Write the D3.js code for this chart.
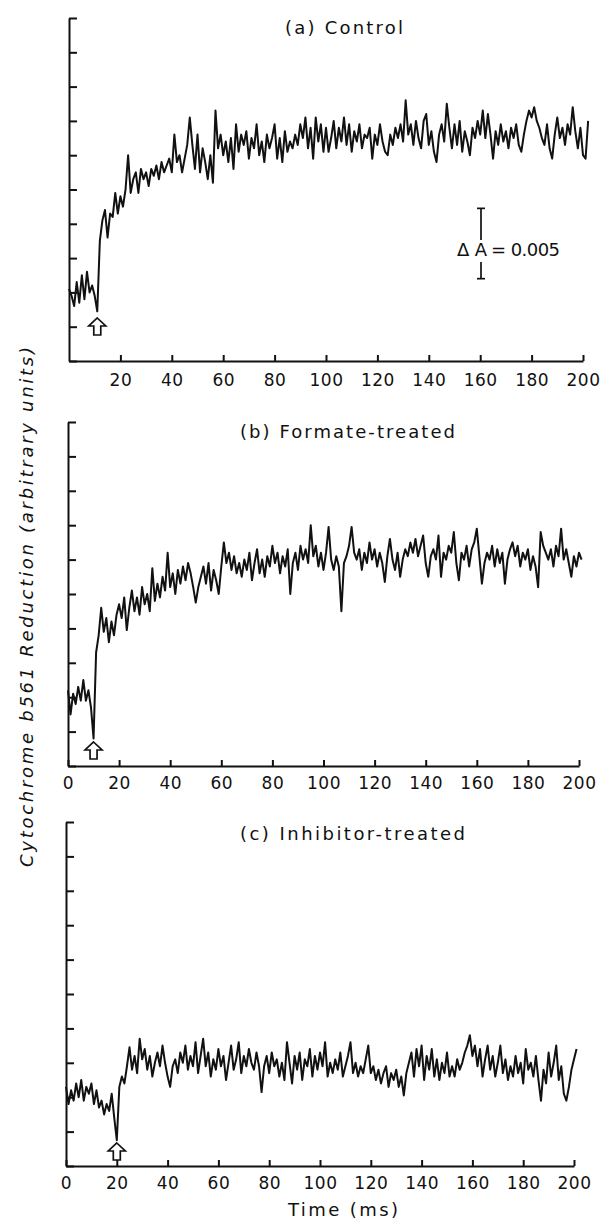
<!DOCTYPE html>
<html>
<head>
<meta charset="utf-8">
<script src="https://cdn.jsdelivr.net/npm/d3@7"></script>
<style>
body { margin: 0; background: #fff; }
svg { display: block; }
.trace { fill: none; stroke: #111; stroke-width: 2; stroke-linejoin: round; }
.axis path, .axis line { stroke: #111; stroke-width: 2; }
.axis text { font-family: "DejaVu Sans"; font-size: 17px; fill: #111; letter-spacing: 0.5px; }
.label { font-family: "DejaVu Sans"; font-size: 18px; fill: #111; }
.flash { fill: #fff; stroke: #111; stroke-width: 1.7; stroke-linejoin: miter; }
</style>
</head>
<body>
<svg id="fig" width="607" height="1222"></svg>
<script>
const timeStep = 1;   // ms between samples, traces start at t = 0

// (a) control
const controlTrace = [
    2.1, 1.9, 1.6, 2.3, 1.7, 2.5, 1.8, 2.6, 2.0, 2.2,
    1.9, 1.45, 3.5, 4.1, 4.4, 3.6, 4.3, 4.2, 4.9, 4.3,
    4.8, 4.5, 5.0, 6.0, 4.9, 5.3, 5.5, 4.9, 5.6, 5.3,
    5.5, 5.1, 5.6, 5.4, 5.7, 5.3, 5.8, 5.5, 5.7, 5.9,
    5.5, 6.6, 5.8, 6.0, 5.5, 5.9, 6.3, 7.1, 6.3, 5.6,
    6.6, 5.5, 6.2, 5.8, 5.3, 6.0, 5.2, 7.3, 6.2, 6.6,
    6.0, 6.4, 5.8, 6.5, 5.6, 6.9, 6.1, 6.6, 6.3, 6.7,
    5.9, 6.5, 6.2, 6.9, 6.0, 6.4, 5.8, 6.6, 6.2, 6.5,
    6.9, 5.9, 6.5, 5.8, 6.7, 6.1, 6.4, 6.2, 6.6, 6.3,
    6.9, 6.5, 7.1, 6.2, 6.8, 5.9, 7.1, 6.4, 6.9, 6.1,
    6.8, 6.1, 6.5, 7.0, 6.2, 6.8, 6.4, 7.1, 6.3, 6.9,
    6.1, 6.7, 6.4, 6.9, 6.2, 6.6, 6.5, 6.8, 5.9, 6.6,
    6.3, 6.9, 6.4, 6.1, 6.0, 6.6, 6.3, 6.8, 6.5, 6.9,
    6.4, 7.6, 6.6, 6.9, 6.3, 7.0, 6.5, 6.2, 7.0, 7.2,
    6.3, 6.7, 6.1, 5.8, 6.6, 6.9, 6.4, 7.5, 6.8, 6.2,
    6.9, 6.3, 7.0, 6.1, 6.7, 6.4, 6.0, 6.8, 6.5, 7.0,
    6.6, 7.3, 6.5, 7.2, 6.6, 5.9, 6.7, 6.3, 6.9, 6.4,
    6.7, 6.2, 6.8, 6.5, 6.9, 6.3, 6.1, 6.6, 7.0, 7.3,
    7.1, 7.4, 7.0, 6.8, 6.5, 6.3, 6.9, 6.2, 5.9, 6.6,
    7.1, 6.5, 6.8, 6.3, 6.9, 6.6, 7.4, 6.7, 6.2, 6.8,
    6.0, 5.9, 7.0
];

// (b) formate-treated
const formateTrace = [
    2.2, 1.5, 2.1, 1.8, 2.3, 1.9, 2.5, 1.9, 2.2, 1.7,
    0.8, 3.3, 3.8, 4.6, 3.9, 4.3, 3.6, 4.2, 3.8, 4.4,
    4.7, 4.3, 4.9, 3.95, 4.6, 5.1, 4.5, 4.9, 4.4, 5.2,
    4.7, 5.0, 4.5, 5.75, 4.8, 5.3, 4.9, 5.5, 5.1, 6.2,
    5.2, 5.6, 5.0, 5.7, 5.3, 5.8, 5.4, 5.9, 5.6, 5.2,
    4.75, 5.2, 5.5, 5.8, 5.3, 5.9, 5.1, 5.7, 5.4, 5.0,
    5.8, 6.5, 5.9, 6.2, 5.7, 6.1, 5.6, 5.9, 5.5, 6.0,
    5.7, 6.2, 5.4, 5.9, 6.3, 5.6, 6.0, 5.5, 6.1, 5.8,
    6.4, 5.9, 6.2, 5.6, 6.1, 5.8, 6.3, 5.0, 5.9, 6.2,
    5.7, 6.4, 6.0, 6.3, 5.9, 7.0, 6.1, 6.4, 5.8, 6.2,
    5.7, 6.2, 6.95, 6.0, 5.7, 6.1, 5.8, 4.5, 5.9, 6.1,
    6.4, 6.95, 6.2, 6.0, 6.3, 5.7, 6.2, 5.9, 6.5, 6.0,
    6.3, 5.8, 6.2, 5.9, 5.35, 6.1, 6.6, 6.0, 5.7, 6.2,
    5.5, 6.0, 6.3, 6.1, 6.5, 6.2, 6.6, 6.1, 6.4, 6.7,
    5.9, 5.5, 6.1, 6.3, 6.0, 6.7, 5.5, 6.2, 6.0, 6.4,
    6.2, 6.8, 5.9, 5.4, 6.2, 6.0, 6.4, 5.8, 6.3, 6.5,
    6.9, 6.1, 5.3, 5.9, 6.2, 6.0, 6.4, 5.8, 6.3, 5.9,
    6.2, 5.3, 6.0, 6.3, 6.5, 6.1, 6.4, 5.8, 6.2, 6.0,
    6.3, 5.7, 6.1, 5.8, 5.2, 6.8, 6.4, 6.2, 6.0, 6.3,
    5.8, 6.4, 6.1, 6.9, 6.0, 6.3, 5.9, 5.5, 6.1, 5.8,
    6.2, 6.0
];

// (c) inhibitor-treated
const inhibitorTrace = [
    2.3, 1.8, 2.2, 1.9, 2.4, 2.0, 2.5, 1.9, 2.3, 2.1,
    2.4, 1.8, 2.2, 1.7, 1.9, 1.5, 1.8, 1.6, 2.1, 1.4,
    0.75, 2.3, 2.6, 2.4, 2.9, 3.45, 2.8, 3.2, 2.7, 3.7,
    3.1, 3.4, 2.8, 3.2, 2.6, 3.0, 3.3, 2.9, 3.5, 3.0,
    2.6, 2.3, 2.9, 3.1, 2.7, 3.3, 3.0, 3.5, 2.8, 3.2,
    2.9, 3.6, 2.7, 3.2, 3.7, 2.9, 3.3, 2.6, 3.1, 2.8,
    3.4, 2.9, 3.2, 2.5, 3.0, 3.5, 2.8, 3.1, 3.6, 2.7,
    3.2, 2.9, 3.4, 3.0, 2.8, 3.3, 2.9, 2.15, 2.9, 3.2,
    2.7, 3.3, 2.9, 3.1, 2.6, 3.0, 2.5, 3.6, 3.0, 2.4,
    3.2, 2.8, 3.3, 2.5, 3.1, 2.9, 3.4, 2.6, 3.2, 2.8,
    3.3, 2.9, 3.6, 2.6, 3.0, 2.7, 3.1, 2.8, 3.3, 2.6,
    2.9, 3.2, 3.6, 2.7, 3.0, 2.6, 2.9, 2.7, 3.1, 3.5,
    2.7, 2.9, 2.5, 2.8, 2.4, 2.7, 2.9, 2.3, 2.7, 2.5,
    2.8, 2.3, 2.6, 2.05, 2.7, 3.0, 3.3, 2.6, 3.4, 2.9,
    3.5, 2.5, 3.2, 2.8, 3.4, 2.6, 3.1, 2.5, 3.0, 2.7,
    3.3, 2.6, 2.9, 2.6, 3.1, 2.8, 3.0, 3.3, 3.5, 3.8,
    3.2, 3.5, 2.9, 3.4, 2.6, 3.1, 3.5, 2.8, 3.2, 2.6,
    3.0, 3.5, 2.7, 3.1, 2.5, 2.9, 2.6, 3.2, 2.7, 3.0,
    2.4, 3.4, 2.8, 3.0, 2.6, 3.2, 2.5, 1.9, 2.8, 2.4,
    3.3, 2.6, 3.0, 3.5, 2.5, 2.9, 2.1, 1.9, 2.3, 2.8,
    3.1, 3.4
];

const panelTitles = ['(a) Control', '(b) Formate-treated', '(c) Inhibitor-treated'];
const flashTimes = [11, 10, 20];          // ms, hollow arrows
const xTicksA = [20, 40, 60, 80, 100, 120, 140, 160, 180, 200];
const xTicks = [0, 20, 40, 60, 80, 100, 120, 140, 160, 180, 200];
const yTicks = [0, 1, 2, 3, 4, 5, 6, 7, 8, 9, 10];
const scaleBar = [2.4, 4.45];            // spans ΔA = 0.005 on the y axis

const svg = d3.select('#fig');

// pixel layout of the three stacked panels
const panels = [
    {trace: controlTrace, title: panelTitles[0], ticks: xTicksA, flash: flashTimes[0],
     x0: 69, x1: 583, top: 18, bottom: 361, titleX: 285, titleY: 34, titleLen: 118,
     arrowTip: 43, labelPad: 13},
    {trace: formateTrace, title: panelTitles[1], ticks: xTicks, flash: flashTimes[1],
     x0: 68, x1: 579, top: 422, bottom: 766, titleX: 240, titleY: 438, titleLen: 215,
     arrowTip: 24, labelPad: 11},
    {trace: inhibitorTrace, title: panelTitles[2], ticks: xTicks, flash: flashTimes[2],
     x0: 66, x1: 574, top: 822, bottom: 1166, titleX: 240, titleY: 840, titleLen: 225,
     arrowTip: 23, labelPad: 11}
];

function arrowPath(cx, ty) {
    // hollow block arrow pointing up, tip at (cx, ty)
    return `M${cx},${ty} L${cx + 8.5},${ty + 8} L${cx + 3.5},${ty + 8} L${cx + 3.5},${ty + 17}` +
           ` L${cx - 3.5},${ty + 17} L${cx - 3.5},${ty + 8} L${cx - 8.5},${ty + 8} Z`;
}

panels.forEach((p, i) => {
    const x = d3.scaleLinear().domain([0, 200]).range([p.x0, p.x1]);
    const y = d3.scaleLinear().domain([0, 10]).range([p.bottom, p.top]);
    const g = svg.append('g');

    g.append('g')
        .attr('class', 'axis')
        .attr('transform', `translate(${p.x0},0)`)
        .call(d3.axisRight(y).tickValues(yTicks).tickSizeInner(8).tickSizeOuter(0).tickFormat(''));

    g.append('g')
        .attr('class', 'axis')
        .attr('transform', `translate(0,${p.bottom})`)
        .call(d3.axisBottom(x).tickValues(p.ticks).tickSizeInner(-6).tickSizeOuter(0)
              .tickPadding(p.labelPad));

    const line = d3.line()
        .x((d, k) => x(k * timeStep))
        .y(d => y(d));

    g.append('path')
        .datum(p.trace)
        .attr('class', 'trace')
        .attr('d', line);

    g.append('path')
        .attr('class', 'flash')
        .attr('d', arrowPath(x(p.flash), p.bottom - p.arrowTip));

    g.append('text')
        .attr('class', 'label')
        .attr('x', p.titleX)
        .attr('y', p.titleY)
        .attr('textLength', p.titleLen)
        .attr('lengthAdjust', 'spacing')
        .text(p.title);

    if (i === 0) {
        // absorbance scale bar with its label, the bar runs through the "A"
        const bx = 481;
        const base = 256;
        g.append('line').attr('x1', bx).attr('x2', bx)
            .attr('y1', y(scaleBar[1])).attr('y2', base - 16)
            .attr('stroke', '#111').attr('stroke-width', 1.7);
        g.append('line').attr('x1', bx).attr('x2', bx)
            .attr('y1', base + 6).attr('y2', y(scaleBar[0]))
            .attr('stroke', '#111').attr('stroke-width', 1.7);
        scaleBar.forEach(v => {
            g.append('line').attr('x1', bx - 4).attr('x2', bx + 4)
                .attr('y1', y(v)).attr('y2', y(v))
                .attr('stroke', '#111').attr('stroke-width', 1.7);
        });
        g.append('text').attr('class', 'label')
            .attr('x', 457).attr('y', base).attr('font-size', 19)
            .text('\u0394');
        g.append('text').attr('class', 'label')
            .attr('x', bx).attr('y', base).attr('text-anchor', 'middle')
            .text('A');
        g.append('text').attr('class', 'label')
            .attr('x', 491).attr('y', base)
            .attr('textLength', 69)
            .attr('lengthAdjust', 'spacing')
            .text('= 0.005');
    }
});

svg.append('text')
    .attr('class', 'label')
    .attr('transform', 'translate(33,607) rotate(-90)')
    .attr('text-anchor', 'middle')
    .attr('font-style', 'italic')
    .attr('font-size', 21)
    .attr('textLength', 520)
    .attr('lengthAdjust', 'spacing')
    .text('Cytochrome b561 Reduction (arbitrary units)');

svg.append('text')
    .attr('class', 'label')
    .attr('x', 288)
    .attr('y', 1216)
    .attr('textLength', 110)
    .attr('lengthAdjust', 'spacing')
    .text('Time (ms)');
</script>
</body>
</html>
